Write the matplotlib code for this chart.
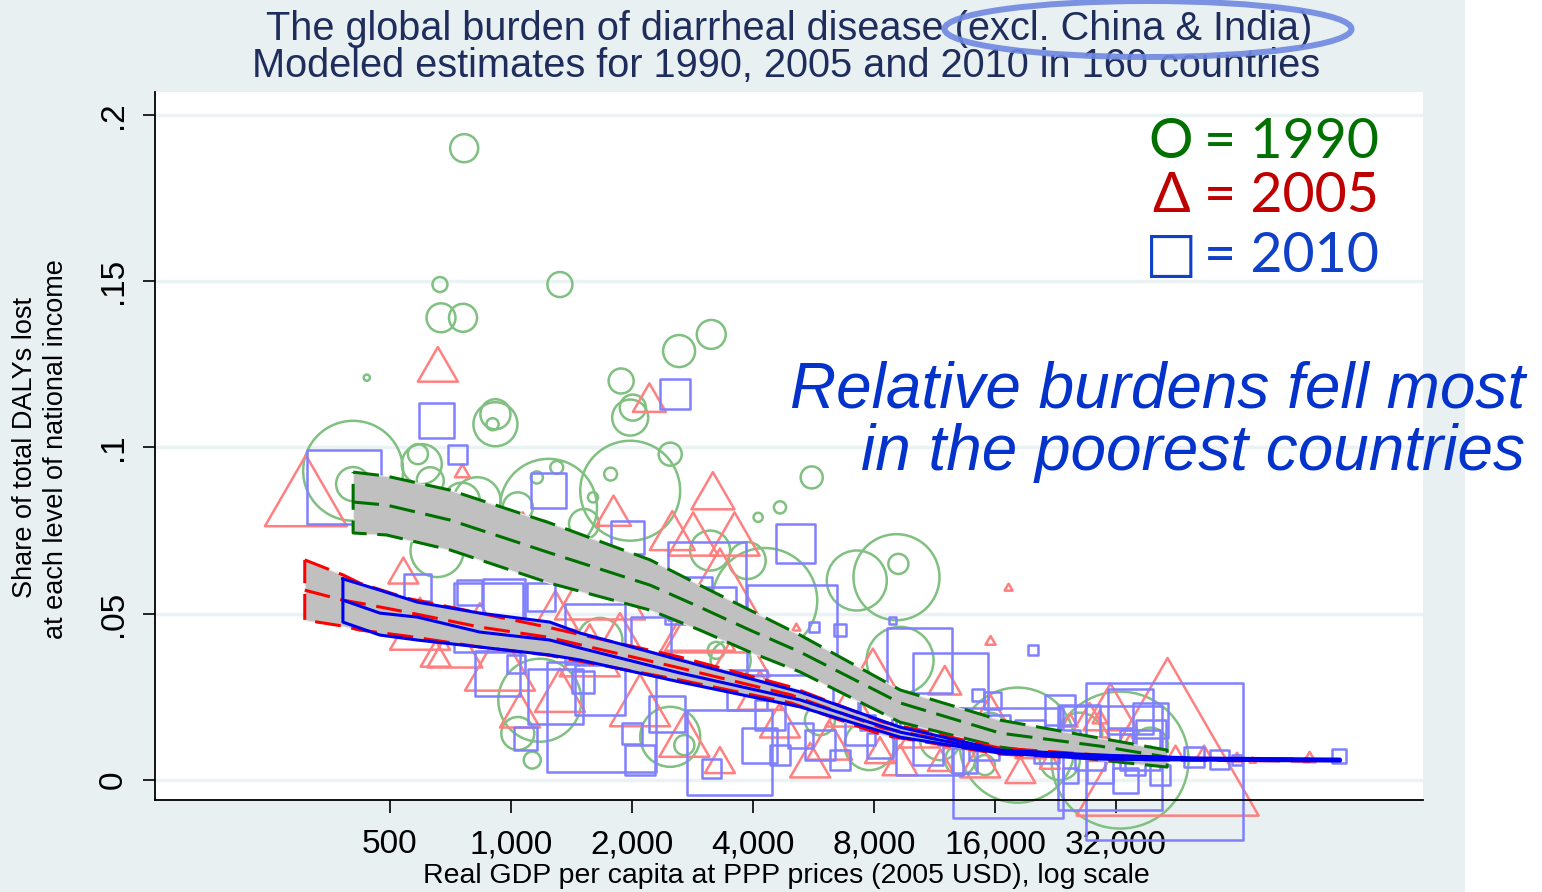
import numpy as np
import matplotlib
matplotlib.use('Agg')
import matplotlib.pyplot as plt
from matplotlib.path import Path
from matplotlib.markers import MarkerStyle
from matplotlib.patches import Ellipse, Rectangle
from matplotlib.ticker import NullLocator

plt.rcParams['font.family'] = ['Liberation Sans', 'DejaVu Sans']

# 1990 (circles): GDP per capita, share of DALYs, population (millions, sets marker size)
gdp90 = [765, 666, 670, 760, 1324, 438, 1880, 2620, 3150, 2010, 1980, 915, 900, 915, 405, 405,
         600, 630, 587, 824, 1240, 1980, 1770, 2490, 1300, 1160, 1040, 1200, 655, 3130, 5600, 4670,
         4120, 9200, 9100, 7250, 4280, 3870, 1180, 1040, 1130, 18200, 32750, 9290, 2700, 2490, 3520,
         3240, 11680, 13100, 7800, 23200, 39000, 15100, 755, 1520, 1600, 1665, 5870, 26000, 15500]
share90 = [.190, .149, .139, .139, .149, .121, .120, .129, .134, .112, .109, .110, .107, .107, .093, .089,
           .095, .090, .098, .084, .082, .087, .092, .098, .094, .091, .082, .075, .069, .069, .091, .082,
           .079, .065, .061, .060, .054, .066, .024, .014, .006, .0105, .006, .036, .0105, .013, .036,
           .039, .012, .006, .0105, .006, .0105, .0045, .084, .077, .085, .042, .018, .0135, .015]
pop90 = [12.3, 3.5, 13.1, 12.3, 9.8, 0.6, 9.8, 16, 13.1, 10.6, 20.3, 14.1, 2.3, 30.3, 156, 18.1,
         25, 11.4, 6.3, 34.5, 147, 156, 2.6, 8.3, 2.6, 2.3, 14.1, 6.3, 43.9, 25, 7.6, 2.3,
         1.3, 6.3, 115.6, 56.3, 172, 21.4, 107.6, 17, 4.5, 207, 293, 70.1, 6.3, 56.3, 25,
         4.5, 25, 14.1, 39.1, 25, 19.1, 6.3, 20.3, 14.1, 1.6, 31.6, 14.1, 31.6, 19.1]

# 2005 (triangles)
gdp05 = [309, 658, 2210, 3180, 757, 1800, 2520, 2840, 3600, 1070, 540, 17300, 15600, 5130, 43000, 12000,
         31000, 45000, 53000, 97000, 70000, 64000, 594, 725, 939, 837, 650, 1053, 1324, 1570, 1867, 2094,
         2700, 2953, 3713, 4164, 4669, 6200, 7000, 7950, 10400, 13100, 15600, 19600, 23200, 27500, 29200,
         34700, 39000, 21900, 14700, 9290, 3310, 5550, 1665, 3310, 24600, 29200, 11700, 18500, 8280, 1290, 2094]
share05 = [.087, .125, .115, .087, .093, .081, .075, .074, .074, .074, .063, .058, .042, .046, .013, .030,
           .022, .0084, .0084, .0069, .006, .0069, .047, .041, .036, .048, .038, .021, .027, .039, .045, .024,
           .0135, .048, .039, .027, .018, .012, .0226, .0325, .015, .0135, .021, .0105, .012, .018, .009,
           .0105, .0075, .006, .006, .006, .006, .006, .060, .054, .018, .019, .006, .003, .009, .051, .060]
pop05 = [105, 25, 17, 28.9, 3.5, 19.1, 31.6, 39.1, 39.1, 39.1, 14.1, 1, 1.6, 1, 518, 17,
         45.6, 3.5, 3.5, 2.3, 0.6, 1.6, 56.3, 47.3, 76.6, 25, 14.1, 25, 39.1, 56.3, 25, 56.3,
         39.1, 76.6, 56.3, 31.6, 25, 31.6, 39.1, 45.6, 25, 14.1, 19.1, 14.1, 14.1, 25, 9.8,
         9.8, 6.3, 6.3, 25, 19.1, 14.1, 25, 126.6, 225, 3.5, 3.5, 9.8, 14.1, 14.1, 31.6, 25]

# 2010 (squares)
gdp10 = [385, 654, 738, 1240, 2560, 5100, 585, 880, 42300, 115000, 19900, 14500, 6580, 5680, 8900, 1090,
         17200, 50000, 58000, 64000, 960, 1190, 1620, 925, 1290, 1680, 2450, 3500, 3150, 2000, 2760, 3240,
         2230, 1510, 1030, 5000, 10400, 12400, 31000, 11000, 15800, 3080, 1950, 7380, 8280, 9800, 10900,
         12300, 13400, 15000, 16500, 19600, 21500, 24600, 27500, 32750, 35700, 39000, 36700, 41200, 29200,
         24600, 33700, 6580, 5870, 5240, 4670, 4160, 4400, 6800, 7380, 34700, 39000, 26000, 23200, 8280,
         2090, 790, 1665, 3870]
share10 = [.088, .108, .098, .087, .116, .071, .058, .049, .0057, .0072, .039, .0256, .045, .046, .048, .0126,
           .0051, .0069, .0063, .006, .054, .055, .044, .032, .025, .019, .020, .0084, .0036, .014, .054, .052,
           .043, .0295, .035, .045, .036, .027, .0066, .0117, .024, .060, .073, .015, .0105, .018, .009,
           .0135, .006, .0105, .0165, .0135, .009, .012, .0075, .012, .0045, .0135, .009, .0015, .003,
           .0015, .0, .006, .0105, .0135, .0075, .0105, .0195, .024, .0286, .0205, .018, .0165, .021, .021,
           .006, .0565, .027, .027]
pop10 = [85.6, 19.1, 5.6, 19.1, 14.1, 23.8, 11.4, 74.4, 385, 3.1, 1.6, 2.3, 2.3, 1.6, 0.8, 8.3,
         189, 6.3, 5.6, 1.6, 27.6, 12.3, 56.3, 31.6, 47.3, 189, 20.3, 112.9, 5.6, 6.3, 34.5, 25,
         25, 7.6, 5.1, 126.6, 66, 87.9, 169, 70.1, 4.5, 95, 17, 14.1, 9.8, 19.1, 14.1,
         6.3, 9.8, 14.1, 6.3, 14.1, 9.8, 6.3, 14.1, 9.8, 6.3, 14.1, 25, 6.3, 9.8,
         3.5, 9.8, 6.3, 14.1, 9.8, 6.3, 19.1, 14.1, 9.8, 6.3, 31.6, 19.1, 25, 14.1, 25,
         14.1, 9.8, 39.1, 25]

# fitted curves with confidence bands
fit90_gdp = [405, 490, 705, 1250, 2220, 2950, 3930, 5240, 9290, 16500, 29200, 42900]
fit90_hi = [.0926, .0914, .0872, .0773, .0662, .0586, .0511, .0436, .0271, .0180, .0126, .0090]
fit90_mid = [.0836, .0827, .0782, .0683, .0586, .0520, .0451, .0385, .0232, .0141, .0102, .0069]
fit90_lo = [.0743, .0737, .0692, .0592, .0511, .0451, .0385, .0325, .0174, .0099, .0060, .0039]

fit05_gdp = [307, 382, 421, 550, 837, 1230, 2630, 4970, 8430, 16460, 29200, 42900, 97000]
fit05_hi = [.0662, .0617, .0592, .0547, .0502, .0460, .0370, .0280, .0174, .0096, .0075, .0066, .0063]
fit05_mid = [.0571, .0541, .0532, .0505, .0460, .0430, .0337, .0256, .0156, .0087, .0069, .0063, .0060]
fit05_lo = [.0481, .0463, .0451, .0433, .0400, .0376, .0301, .0232, .0135, .0078, .0063, .0060, .0057]

fit10_gdp = [382, 472, 585, 837, 1250, 1485, 2630, 5240, 9290, 16460, 29200, 51800, 115500]
fit10_hi = [.0605, .0571, .0535, .0502, .0475, .0442, .0361, .0265, .0159, .0090, .0075, .0066, .0063]
fit10_mid = [.0541, .0502, .0490, .0445, .0421, .0397, .0322, .0241, .0144, .0084, .0069, .0063, .0060]
fit10_lo = [.0475, .0436, .0421, .0400, .0376, .0361, .0295, .0220, .0129, .0081, .0063, .0060, .0057]

xticks = [500, 1000, 2000, 4000, 8000, 16000, 32000]
xticklabels = ['500', '1,000', '2,000', '4,000', '8,000', '16,000', '32,000']
yticks = [0, .05, .1, .15, .2]
yticklabels = ['0', '.05', '.1', '.15', '.2']

W, H = 1542, 892
fig = plt.figure(figsize=(W / 100, H / 100), dpi=100, facecolor='#E8F0F2')
fig.add_artist(Rectangle((1465 / W, 0), 1, 1, transform=fig.transFigure,
                         facecolor='white', edgecolor='none', zorder=0))
ax = fig.add_axes([155 / W, (H - 800) / H, (1423 - 155) / W, (800 - 92) / H])
ax.set_facecolor('white')
ax.set_xscale('log')
ax.set_xlim(130.2, 185700)
ax.set_ylim(-0.006, 0.2069)

SIZE = (8 * 0.72) ** 2
tri = MarkerStyle(Path([(0, .866), (-1, -.866), (1, -.866), (0, .866)], closed=True))

ax.scatter(gdp90, share90, s=np.array(pop90) * SIZE, marker='o', facecolors='none',
           edgecolors='#80C080', linewidths=1.8, clip_on=False, zorder=2)
ax.scatter(gdp05, share05, s=np.array(pop05) * SIZE, marker=tri, facecolors='none',
           edgecolors='#FF8080', linewidths=1.8, clip_on=False, zorder=2)
ax.scatter(gdp10, share10, s=np.array(pop10) * SIZE, marker='s', facecolors='none',
           edgecolors='#8080FF', linewidths=1.8, clip_on=False, zorder=2)


def band(x, lo, mid, hi, color, ls):
    ax.fill_between(x, lo, hi, color='#C0C0C0', lw=0.8, edgecolor='#E6E6E6', zorder=3)
    ox = list(x) + list(x[::-1]) + [x[0]]
    oy = list(hi) + list(lo[::-1]) + [hi[0]]
    ax.plot(ox, oy, color=color, lw=2.2, ls=ls, zorder=4)
    ax.plot(x, mid, color=color, lw=2.2, ls=ls, zorder=4)


dash = (0, (8.5, 3.5))
band(fit90_gdp, fit90_lo, fit90_mid, fit90_hi, '#007000', dash)
band(fit05_gdp, fit05_lo, fit05_mid, fit05_hi, '#FF0000', dash)
band(fit10_gdp, fit10_lo, fit10_mid, fit10_hi, '#0000F0', '-')

# axes styling
ax.set_yticks(yticks)
ax.set_yticklabels(yticklabels, rotation=90, va='center')
ax.set_xticks(xticks)
ax.set_xticklabels(xticklabels)
ax.xaxis.set_minor_locator(NullLocator())
ax.yaxis.grid(True, color='#EAF2F3', lw=2.5)
ax.set_axisbelow(True)
for s in ['top', 'right']:
    ax.spines[s].set_visible(False)
for s in ['left', 'bottom']:
    ax.spines[s].set_linewidth(1.3)
ax.tick_params(axis='both', length=9, width=1.2, labelsize=24)
ax.tick_params(axis='x', pad=12)
ax.tick_params(axis='y', pad=10)

# titles and labels
navy = '#1F2D5C'
fig.text(789 / W, 1 - 29 / H, 'The global burden of diarrheal disease (excl. China & India)',
         ha='center', va='center', fontsize=28.6, color=navy)
fig.text(786 / W, 1 - 66 / H, 'Modeled estimates for 1990, 2005 and 2010 in 160 countries',
         ha='center', va='center', fontsize=28.6, color=navy)
fig.add_artist(Ellipse((1148 / W, 1 - 29 / H), 407 / W, 56 / H, transform=fig.transFigure,
                       fill=False, edgecolor='#6E88E0', lw=4.3, alpha=0.9, zorder=10))
fig.text(786 / W, 1 - 876 / H, 'Real GDP per capita at PPP prices (2005 USD), log scale',
         ha='center', va='center', fontsize=20.5)
fig.text(25 / W, 1 - 447 / H, 'Share of total DALYs lost', rotation=90,
         ha='center', va='center', fontsize=19.5)
fig.text(56 / W, 1 - 449 / H, 'at each level of national income', rotation=90,
         ha='center', va='center', fontsize=19.5)

# year key: symbol and "= year" set separately
key_font = ['Lato', 'DejaVu Sans']
key_rows = [('O', '= 1990', '#007000', 143, 40, key_font),
            ('\u0394', '= 2005', '#C00000', 197, 40, key_font),
            ('\u25a1', '= 2010', '#1040C8', 256, 40, ['DejaVu Sans'])]
for sym, txt, col, ypx, sym_size, sym_font in key_rows:
    fig.text(1171 / W, 1 - ypx / H, sym, ha='center', va='center', fontsize=sym_size,
             color=col, family=sym_font)
    fig.text(1204 / W, 1 - ypx / H, txt, ha='left', va='center', fontsize=40,
             color=col, family=key_font)

fig.text(1525 / W, 1 - 390 / H, 'Relative burdens fell most', ha='right', va='center',
         fontsize=46, style='italic', color='#0433CC')
fig.text(1525 / W, 1 - 453 / H, 'in the poorest countries', ha='right', va='center',
         fontsize=46, style='italic', color='#0433CC')

fig.savefig('out.png', dpi=100, facecolor=fig.get_facecolor())
